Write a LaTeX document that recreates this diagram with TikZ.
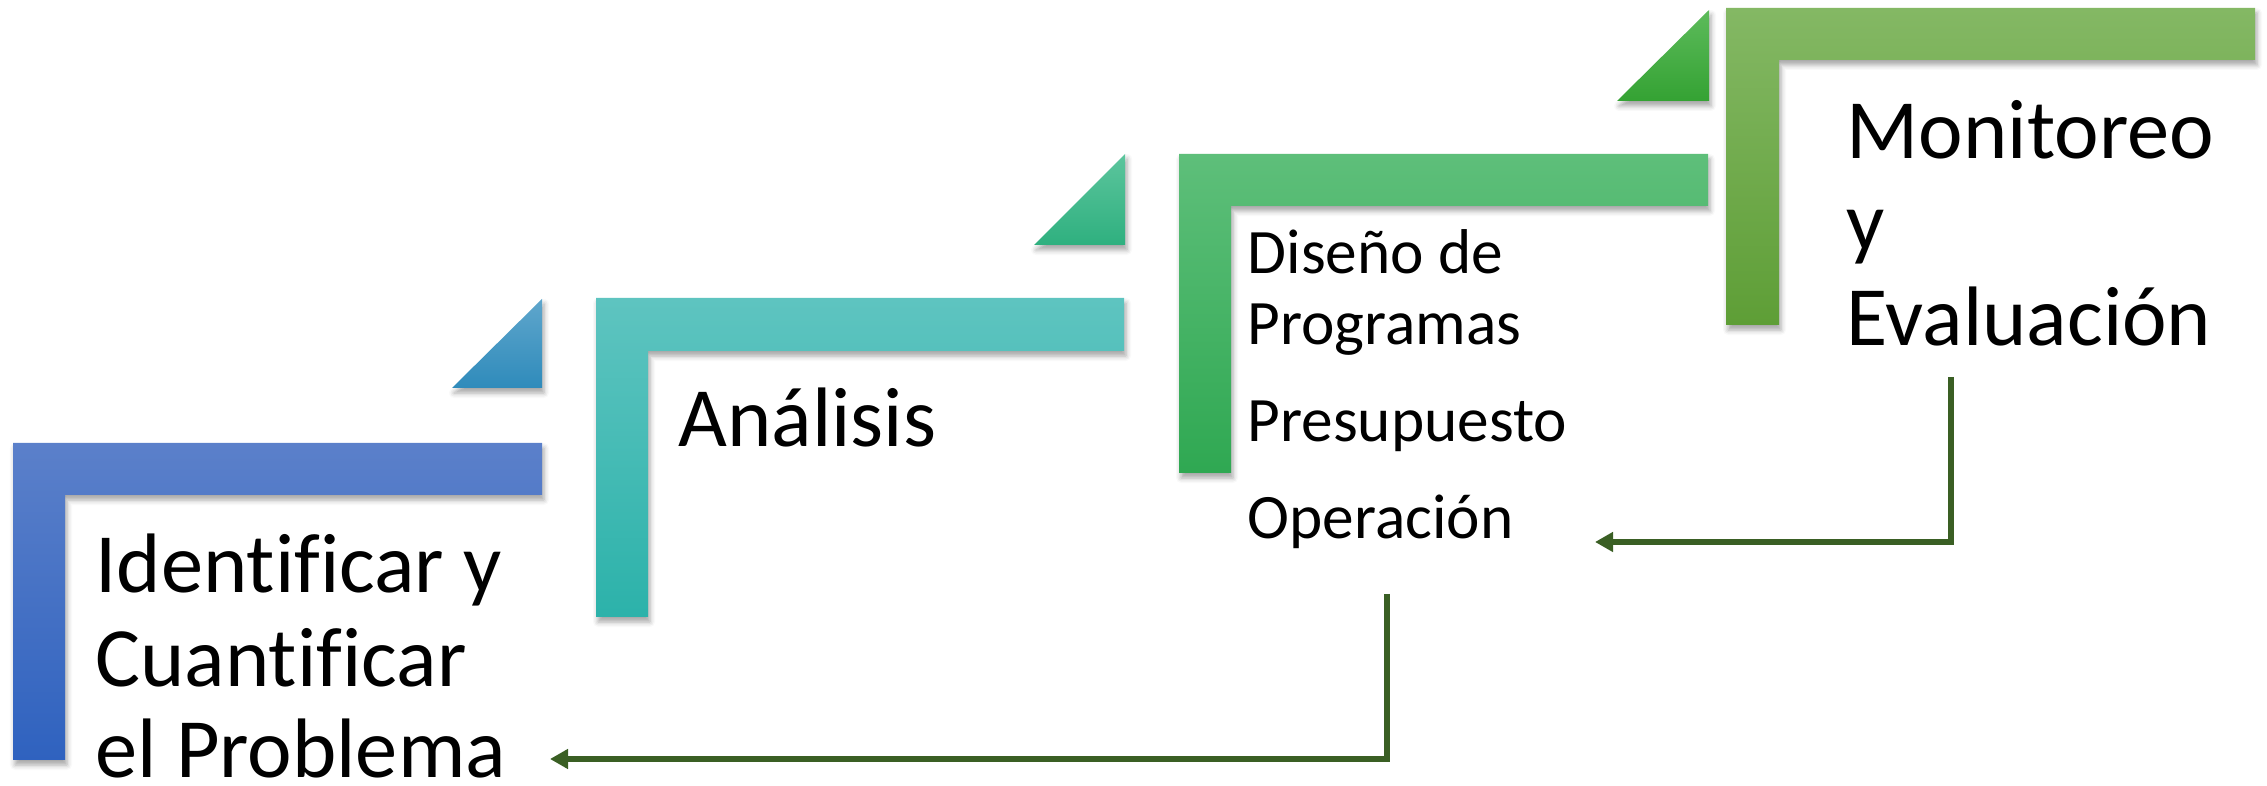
\documentclass[tikz,border=0pt]{standalone}
\usepackage{fontspec}
\setmainfont{Carlito}[Ligatures=NoCommon]
\usetikzlibrary{arrows.meta,shadows.blur}
\definecolor{blueTop}{HTML}{5B80CA}
\definecolor{blueBot}{HTML}{2F62BF}
\definecolor{tealTop}{HTML}{5EC4C0}
\definecolor{tealBot}{HTML}{2CB2AA}
\definecolor{greenTop}{HTML}{5EBF7A}
\definecolor{greenBot}{HTML}{2FA852}
\definecolor{lgTop}{HTML}{84B864}
\definecolor{lgBot}{HTML}{5E9E36}
\definecolor{triATop}{HTML}{5FA6CC}
\definecolor{triABot}{HTML}{2F8BBB}
\definecolor{triBTop}{HTML}{5CC59D}
\definecolor{triBBot}{HTML}{2FB07F}
\definecolor{triCTop}{HTML}{5DBB5B}
\definecolor{triCBot}{HTML}{34A233}
\definecolor{arrowGreen}{HTML}{3A5F24}
\tikzset{
  shapeshadow/.style={blur shadow={shadow xshift=0.02cm, shadow yshift=-0.05cm, shadow blur radius=0.05cm, shadow opacity=35}},
  bigtxt/.style={anchor=base west, inner sep=0pt, font=\fontsize{24}{28}\selectfont},
  smalltxt/.style={anchor=base west, inner sep=0pt, font=\fontsize{18}{21}\selectfont},
  link/.style={draw=arrowGreen, line width=0.06cm, -{Triangle[length=0.18cm,width=0.19cm]}}
}
\begin{document}
\begin{tikzpicture}[x=0.01cm,y=-0.01cm]
\useasboundingbox (0,0) rectangle (2267,786);
% L shapes
\path[shapeshadow, top color=blueTop, bottom color=blueBot]
  (13,443) -- (542,443) -- (542,495) -- (65,495) -- (65,760) -- (13,760) -- cycle;
\path[shapeshadow, top color=tealTop, bottom color=tealBot]
  (596,298) -- (1124,298) -- (1124,351) -- (648,351) -- (648,617) -- (596,617) -- cycle;
\path[shapeshadow, top color=greenTop, bottom color=greenBot]
  (1179,154) -- (1708,154) -- (1708,206) -- (1231,206) -- (1231,473) -- (1179,473) -- cycle;
\path[shapeshadow, top color=lgTop, bottom color=lgBot]
  (1726,8) -- (2255,8) -- (2255,60) -- (1779,60) -- (1779,325) -- (1726,325) -- cycle;
% triangles
\path[shapeshadow, top color=triATop, bottom color=triABot]
  (452,388) -- (542,299) -- (542,388) -- cycle;
\path[shapeshadow, top color=triBTop, bottom color=triBBot]
  (1034,245) -- (1125,154) -- (1125,245) -- cycle;
\path[shapeshadow, top color=triCTop, bottom color=triCBot]
  (1617,101) -- (1709,10) -- (1709,101) -- cycle;
% texts
\node[bigtxt] (t1a) at (95,593) {Identificar y};
\node[bigtxt] (t1b) at (95,687) {Cuantificar};
\node[bigtxt] (t1c) at (95,778) {el Problema};
\node[bigtxt] (t2) at (678,447) {Análisis};
\node[smalltxt] (t3a) at (1247,274) {Diseño de};
\node[smalltxt] (t3b) at (1247,345) {Programas};
\node[smalltxt] (t3c) at (1247,442) {Presupuesto};
\node[smalltxt] (t3d) at (1247,539) {Operación};
\node[bigtxt] (t4a) at (1846,159) {Monitoreo};
\node[bigtxt] (t4b) at (1846,251) {y};
\node[bigtxt] (t4c) at (1846,346) {Evaluación};
% connectors
\coordinate (a1s) at (1951,377);
\coordinate (a1e) at (1595,542);
\coordinate (a2s) at (1387,594);
\coordinate (a2e) at (550,759);
\draw[link] (a1s) |- (a1e);
\draw[link] (a2s) |- (a2e);
\end{tikzpicture}
\end{document}
